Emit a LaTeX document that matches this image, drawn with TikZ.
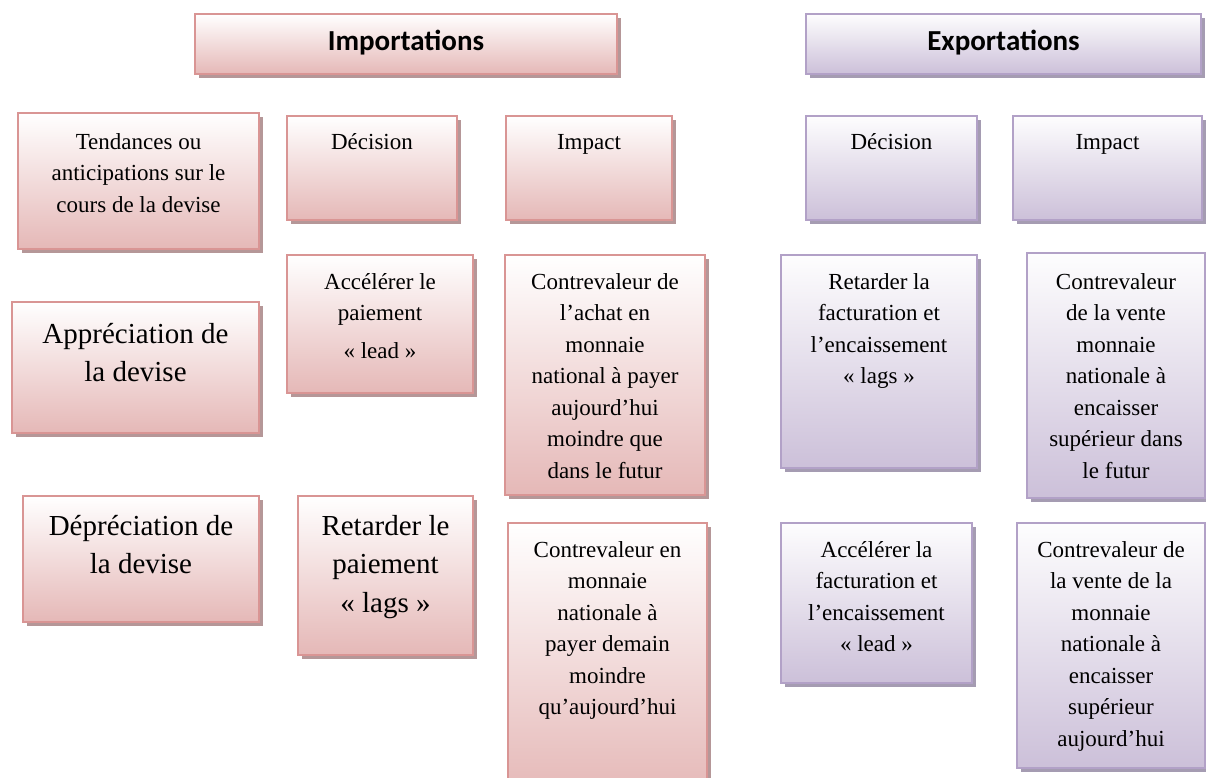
\documentclass[tikz,border=0pt]{standalone}
\usepackage{fontspec}
\setmainfont{Liberation Serif}
\newfontfamily\hdrfont{Carlito}
\usetikzlibrary{shadows,fit}
\definecolor{pkborder}{HTML}{D99594}
\definecolor{pkfill}{HTML}{E5B8B7}
\definecolor{pkshadow}{HTML}{B59798}
\definecolor{puborder}{HTML}{B2A1C7}
\definecolor{pufill}{HTML}{CCC0D9}
\definecolor{pushadow}{HTML}{A59CB2}
\tikzset{
  pinkbox/.style={draw=pkborder, line width=2pt, top color=white, bottom color=pkfill,
    inner sep=0pt, outer sep=0pt,
    drop shadow={shadow xshift=4pt, shadow yshift=-4pt, fill=pkshadow, opacity=1}},
  purplebox/.style={draw=puborder, line width=2pt, top color=white!97!pufill, bottom color=pufill,
    inner sep=0pt, outer sep=0pt,
    drop shadow={shadow xshift=4pt, shadow yshift=-4pt, fill=pushadow, opacity=1}},
  hdrtext/.style={font=\hdrfont\bfseries\fontsize{29}{35}\selectfont, inner sep=0pt, anchor=center},
  smalltext/.style={font=\fontsize{23}{31.5}\selectfont, align=center, inner sep=0pt, anchor=north},
  bigtext/.style={font=\fontsize{29}{38.5}\selectfont, align=center, inner sep=0pt, anchor=north},
}
\newcommand\mkbox[6]{\node[#1, fit={(#3,#4) (#5,#6)}] (#2) {};}
\newcommand\mktext[4]{\node[#1] (#2t) at ([yshift=-#3pt]#2.north) {\strut #4};}
\begin{document}
\begin{tikzpicture}[x=1pt,y=-1pt]
\useasboundingbox (0,0) rectangle (1206,778);
% headers
\mkbox{pinkbox}{himp}{195}{14}{617}{74}
\node[hdrtext] (himpt) at ([yshift=1pt]himp.center) {Importations};
\mkbox{purplebox}{hexp}{806}{14}{1201}{74}
\node[hdrtext] (hexpt) at ([yshift=1pt]hexp.center) {Exportations};
% row 1
\mkbox{pinkbox}{tend}{18}{113}{259}{249}
\mktext{smalltext}{tend}{14}{Tendances ou\\anticipations sur le\\cours de la devise}
\mkbox{pinkbox}{dimp}{287}{116}{457}{220}
\mktext{smalltext}{dimp}{11}{Décision}
\mkbox{pinkbox}{iimp}{506}{116}{672}{220}
\mktext{smalltext}{iimp}{11}{Impact}
\mkbox{purplebox}{dexp}{806}{116}{977}{220}
\mktext{smalltext}{dexp}{11}{Décision}
\mkbox{purplebox}{iexp}{1013}{116}{1202}{220}
\mktext{smalltext}{iexp}{11}{Impact}
% row 2
\mkbox{pinkbox}{appr}{12}{302}{259}{433}
\mktext{bigtext}{appr}{14}{Appréciation de\\la devise}
\mkbox{pinkbox}{accp}{287}{255}{473}{393}
\mktext{smalltext}{accp}{12}{Accélérer le\\paiement\\[6pt]«~lead~»}
\mkbox{pinkbox}{cach}{505}{255}{705}{495}
\mktext{smalltext}{cach}{12}{Contrevaleur de\\l’achat en\\monnaie\\national à payer\\aujourd’hui\\moindre que\\dans le futur}
\mkbox{purplebox}{rexp}{781}{255}{977}{468}
\mktext{smalltext}{rexp}{12}{Retarder la\\facturation et\\l’encaissement\\«~lags~»}
\mkbox{purplebox}{cven}{1027}{253}{1205}{498}
\mktext{smalltext}{cven}{14}{Contrevaleur\\de la vente\\monnaie\\nationale à\\encaisser\\supérieur dans\\le futur}
% row 3
\mkbox{pinkbox}{depr}{23}{496}{259}{622}
\mktext{bigtext}{depr}{12}{Dépréciation de\\la devise}
\mkbox{pinkbox}{retp}{298}{496}{473}{655}
\mktext{bigtext}{retp}{12}{Retarder le\\paiement\\«~lags~»}
\mkbox{pinkbox}{cmon}{508}{523}{707}{795}
\mktext{smalltext}{cmon}{12}{Contrevaleur en\\monnaie\\nationale à\\payer demain\\moindre\\qu’aujourd’hui}
\mkbox{purplebox}{aexp}{781}{523}{972}{683}
\mktext{smalltext}{aexp}{12}{Accélérer la\\facturation et\\l’encaissement\\«~lead~»}
\mkbox{purplebox}{cve2}{1017}{523}{1205}{768}
\mktext{smalltext}{cve2}{12}{Contrevaleur de\\la vente de la\\monnaie\\nationale à\\encaisser\\supérieur\\aujourd’hui}
\end{tikzpicture}
\end{document}
